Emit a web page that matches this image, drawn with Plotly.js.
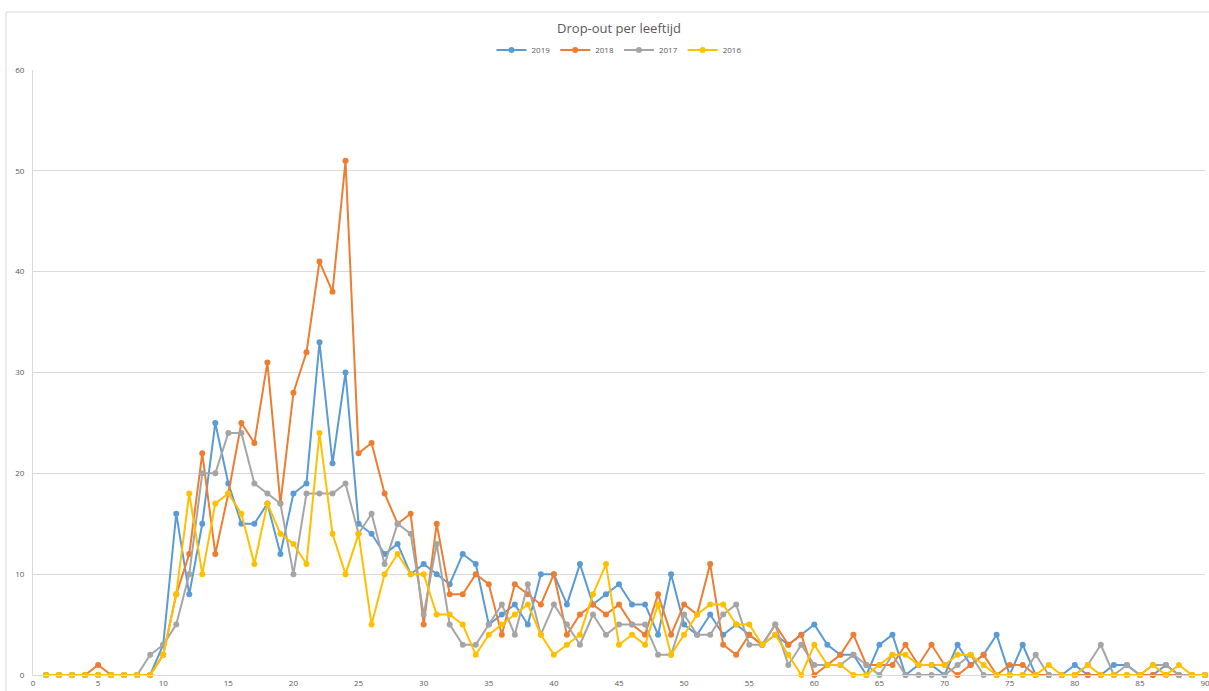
<!DOCTYPE html>
<html>
<head>
<meta charset="utf-8">
<script src="https://cdn.plot.ly/plotly-3.0.1.min.js"></script>
<style>html,body{margin:0;padding:0;background:#fff;}#chart{width:1209px;height:691px;}</style>
</head>
<body>
<div id="chart"></div>
<script>
const ages = Array.from({length: 90}, (_, i) => i + 1);
const seriesNames = ["2019", "2018", "2017", "2016"];
const y2019 = [0,0,0,0,0,0,0,0,0,3, 16,8,15,25,19,15,15,17,12,18, 19,33,21,30,15,14,12,13,10,11, 10,9,12,11,5,6,7,5,10,10, 7,11,7,8,9,7,7,4,10,5, 4,6,4,5,4,3,4,3,4,5, 3,2,2,0,3,4,0,1,1,0, 3,1,2,4,0,3,0,0,0,1, 0,0,1,1,0,0,1,0,0,0];
const y2018 = [0,0,0,0,1,0,0,0,0,2, 8,12,22,12,18,25,23,31,17,28, 32,41,38,51,22,23,18,15,16,5, 15,8,8,10,9,4,9,8,7,10, 4,6,7,6,7,5,4,8,4,7, 6,11,3,2,4,3,5,3,4,0, 1,2,4,1,1,1,3,1,3,1, 0,1,2,0,1,1,0,0,0,0, 0,0,0,0,0,0,0,0,0,0];
const y2017 = [0,0,0,0,0,0,0,0,2,3, 5,10,20,20,24,24,19,18,17,10, 18,18,18,19,14,16,11,15,14,6, 13,5,3,3,5,7,4,9,4,7, 5,3,6,4,5,5,5,2,2,6, 4,4,6,7,3,3,5,1,3,1, 1,1,2,1,0,2,0,0,0,0, 1,2,0,0,0,0,2,0,0,0, 1,3,0,1,0,1,1,0,0,0];
const y2016 = [0,0,0,0,0,0,0,0,0,2, 8,18,10,17,18,16,11,17,14,13, 11,24,14,10,14,5,10,12,10,10, 6,6,5,2,4,5,6,7,4,2, 3,4,8,11,3,4,3,7,2,4, 6,7,7,5,5,3,4,2,0,3, 1,1,0,0,1,2,2,1,1,1, 2,2,1,0,0,0,0,1,0,0, 1,0,0,0,0,1,0,1,0,0];
const seriesValues = [y2019, y2018, y2017, y2016];
const colors = ["#5B9BD5", "#ED7D31", "#A5A5A5", "#FFC000"];

const traces = seriesNames.map((name, i) => ({
  type: "scatter",
  mode: "lines+markers",
  name: name,
  x: ages,
  y: seriesValues[i],
  line: {color: colors[i], width: 2},
  marker: {color: colors[i], size: 6, symbol: "circle"},
  cliponaxis: false
}));

const font = "Open Sans, Liberation Sans, sans-serif";
const layout = {
  width: 1209,
  height: 691,
  margin: {l: 33, r: 4, t: 70, b: 16, pad: 0},
  paper_bgcolor: "#ffffff",
  plot_bgcolor: "#ffffff",
  font: {family: font, color: "#595959", size: 9},
  title: {
    text: "Drop-out per leeftijd",
    font: {family: font, size: 13, color: "#595959"},
    x: 0.512, xanchor: "center",
    y: 1 - 28/691, yanchor: "middle", yref: "container"
  },
  showlegend: true,
  legend: {
    orientation: "h",
    x: 0.5, xanchor: "center",
    y: (675 - 50) / 605, yanchor: "middle",
    font: {family: font, size: 8, color: "#595959"},
    itemwidth: 30,
    bgcolor: "rgba(0,0,0,0)"
  },
  xaxis: {
    range: [0, 90],
    tickmode: "linear", tick0: 0, dtick: 5,
    showgrid: false,
    zeroline: false,
    showline: true, linecolor: "#d9d9d9", linewidth: 1,
    ticks: "",
    ticklabeloverflow: "allow",
    tickfont: {family: font, size: 8, color: "#595959"},
    fixedrange: true
  },
  yaxis: {
    range: [0, 60],
    tickmode: "linear", tick0: 0, dtick: 10,
    showgrid: true, gridcolor: "#d9d9d9", gridwidth: 1,
    zeroline: false,
    showline: true, linecolor: "#d9d9d9", linewidth: 1,
    ticks: "",
    ticklabelstandoff: 6,
    tickfont: {family: font, size: 8, color: "#595959"},
    fixedrange: true
  },
  shapes: [{
    type: "rect", xref: "paper", yref: "paper",
    x0: (6 - 33) / 1172, x1: 1.02,
    y0: -0.1, y1: (675 - 12) / 605,
    line: {color: "#d9d9d9", width: 1},
    fillcolor: "rgba(0,0,0,0)", layer: "below"
  }]
};

Plotly.newPlot("chart", traces, layout, {displayModeBar: false, staticPlot: true});
</script>
</body>
</html>
